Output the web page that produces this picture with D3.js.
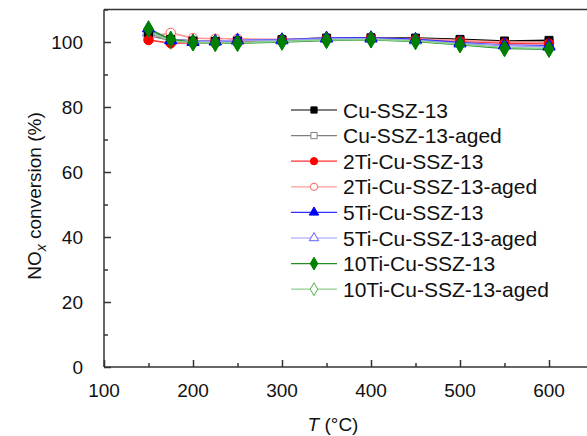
<!DOCTYPE html>
<html>
<head>
<meta charset="utf-8">
<style>
  body { margin: 0; background: #fff; }
  svg text { font-family: Arial, "Liberation Sans", sans-serif; fill: #111; }
</style>
</head>
<body>
<div id="chart"></div>
<script src="https://d3js.org/d3.v7.min.js"></script>
<script>
// temperatures (C)
var temps = [150, 175, 200, 225, 250, 300, 350, 400, 450, 500, 550, 600];

var names = ["Cu-SSZ-13", "Cu-SSZ-13-aged", "2Ti-Cu-SSZ-13", "2Ti-Cu-SSZ-13-aged",
             "5Ti-Cu-SSZ-13", "5Ti-Cu-SSZ-13-aged", "10Ti-Cu-SSZ-13", "10Ti-Cu-SSZ-13-aged"];

// NOx conversion (%) per sample
var cu        = [102.8, 100.8, 100.3, 100.2, 100.3, 100.7, 101.2, 101.3, 101.2, 100.8, 100.3, 100.5];
var cuAged    = [102.0, 100.5, 100.0, 100.0, 100.2, 100.5, 101.0, 101.0, 100.8, 100.3, 99.8, 100.0];
var ti2       = [100.6, 99.6, 99.8, 99.8, 100.0, 100.5, 101.0, 101.2, 100.8, 100.3, 99.6, 99.5];
var ti2Aged   = [101.5, 102.8, 101.2, 101.0, 101.0, 100.8, 101.2, 101.2, 101.0, 100.5, 100.0, 99.8];
var ti5       = [104.2, 100.5, 100.0, 100.2, 100.5, 100.7, 101.2, 101.3, 100.8, 99.8, 99.0, 98.8];
var ti5Aged   = [103.0, 100.8, 100.3, 100.2, 100.5, 100.5, 101.0, 101.0, 100.5, 99.5, 99.0, 98.5];
var ti10      = [104.0, 100.8, 99.8, 99.6, 99.6, 100.0, 100.5, 100.7, 100.2, 99.2, 98.0, 97.8];
var ti10Aged  = [103.2, 100.3, 99.8, 99.7, 99.8, 100.2, 100.6, 100.8, 100.3, 99.3, 98.3, 98.0];

var xTicks = [100, 200, 300, 400, 500, 600];
var yTicks = [0, 20, 40, 60, 80, 100];

var allValues = [cu, cuAged, ti2, ti2Aged, ti5, ti5Aged, ti10, ti10Aged];
var lineCols = ["#000000", "#808080", "#ff3030", "#ff9a9a", "#3030ff", "#9a9aff", "#209020", "#8fcf8f"];
var markCols = ["#000000", "#808080", "#ff0000", "#ff6060", "#0000ff", "#6060ff", "#008000", "#50b050"];
var filled   = [true, false, true, false, true, false, true, false];
var shapes   = [d3.symbolSquare, d3.symbolSquare, d3.symbolCircle, d3.symbolCircle,
                d3.symbolTriangle, d3.symbolTriangle, d3.symbolDiamond, d3.symbolDiamond];
var sizes    = [64, 64, 70, 70, 64, 64, 80, 80];

var W = 587, H = 436;
var svg = d3.select("#chart").append("svg").attr("width", W).attr("height", H);

var x = d3.scaleLinear().domain([100, 650]).range([104, 593.5]);
var y = d3.scaleLinear().domain([0, 110]).range([367, 9.5]);

var axisCol = "#333";

// frame (top + right), clipped by the window like the original
svg.append("path")
   .attr("d", "M" + x(100) + "," + y(110) + "H" + x(650) + "V" + y(0))
   .style("fill", "none").style("stroke", axisCol).style("stroke-width", 1.5);

// x axis, ticks pointing inward
var xAxis = svg.append("g").attr("transform", "translate(0," + y(0) + ")")
   .call(d3.axisBottom(x).tickValues(d3.range(100, 651, 50)).tickSize(-4).tickFormat(""));
xAxis.selectAll(".tick line").attr("y2", function(d) { return d % 100 == 0 ? -7 : -4; });
xAxis.selectAll("line, path").style("stroke", axisCol).style("stroke-width", 1.5);
xAxis.select(".domain").attr("d", "M" + x(100) + ",0H" + x(650));

svg.selectAll(".xlab").data(xTicks).enter().append("text")
   .attr("x", function(d) { return x(d); })
   .attr("y", 397)
   .attr("text-anchor", "middle")
   .style("font-size", "19px")
   .text(function(d) { return d; });

// y axis
var yAxis = svg.append("g").attr("transform", "translate(" + x(100) + ",0)")
   .call(d3.axisLeft(y).tickValues(d3.range(0, 111, 10)).tickSize(-4).tickFormat(""));
yAxis.selectAll(".tick line").attr("x2", function(d) { return d % 20 == 0 ? 7 : 4; });
yAxis.selectAll("line, path").style("stroke", axisCol).style("stroke-width", 1.5);
yAxis.select(".domain").attr("d", "M0," + y(0) + "V" + y(110));

svg.selectAll(".ylab").data(yTicks).enter().append("text")
   .attr("x", 83)
   .attr("y", function(d) { return y(d) + 7; })
   .attr("text-anchor", "end")
   .style("font-size", "19px")
   .text(function(d) { return d; });

// axis titles
var yt = svg.append("text")
   .attr("transform", "translate(41,196) rotate(-90)")
   .attr("text-anchor", "middle")
   .style("font-size", "19px");
yt.append("tspan").text("NO");
yt.append("tspan").attr("font-style", "italic").attr("font-size", "14px").attr("dy", 5).text("x");
yt.append("tspan").attr("dy", -5).text(" conversion (%)");

var xt = svg.append("text")
   .attr("x", 333).attr("y", 431)
   .attr("text-anchor", "middle")
   .style("font-size", "19px");
xt.append("tspan").attr("font-style", "italic").text("T");
xt.append("tspan").text(" (\u00b0C)");

// series
var line = d3.line().x(function(d, i) { return x(temps[i]); }).y(function(d) { return y(d); });

allValues.forEach(function(vals, k) {
  svg.append("path").datum(vals)
     .attr("d", line)
     .style("fill", "none")
     .style("stroke", lineCols[k])
     .style("stroke-width", 1.6);
});
// open (aged) markers first, solid ones on top
var order = [1, 3, 5, 7, 0, 2, 4, 6];
order.forEach(function(k) {
  svg.selectAll(".m" + k).data(allValues[k]).enter().append("path")
     .attr("transform", function(d, i) { return "translate(" + x(temps[i]) + "," + y(d) + ")"; })
     .attr("d", d3.symbol().type(shapes[k]).size(sizes[k]))
     .style("fill", filled[k] ? markCols[k] : "#fff")
     .style("stroke", markCols[k])
     .style("stroke-width", 1);
});

// legend
var lg = svg.append("g");
names.forEach(function(n, k) {
  var ly = 110 + k * 25.6;
  lg.append("line").attr("x1", 291).attr("x2", 337).attr("y1", ly).attr("y2", ly)
    .style("stroke", lineCols[k]).style("stroke-width", 1.2);
  lg.append("path")
    .attr("transform", "translate(314," + ly + ")")
    .attr("d", d3.symbol().type(shapes[k]).size(sizes[k] * 0.6))
    .style("fill", filled[k] ? markCols[k] : "#fff")
    .style("stroke", markCols[k]).style("stroke-width", 1);
  lg.append("text").attr("x", 343).attr("y", ly + 7.5)
    .style("font-size", "21px").text(n);
});
</script>
</body>
</html>
